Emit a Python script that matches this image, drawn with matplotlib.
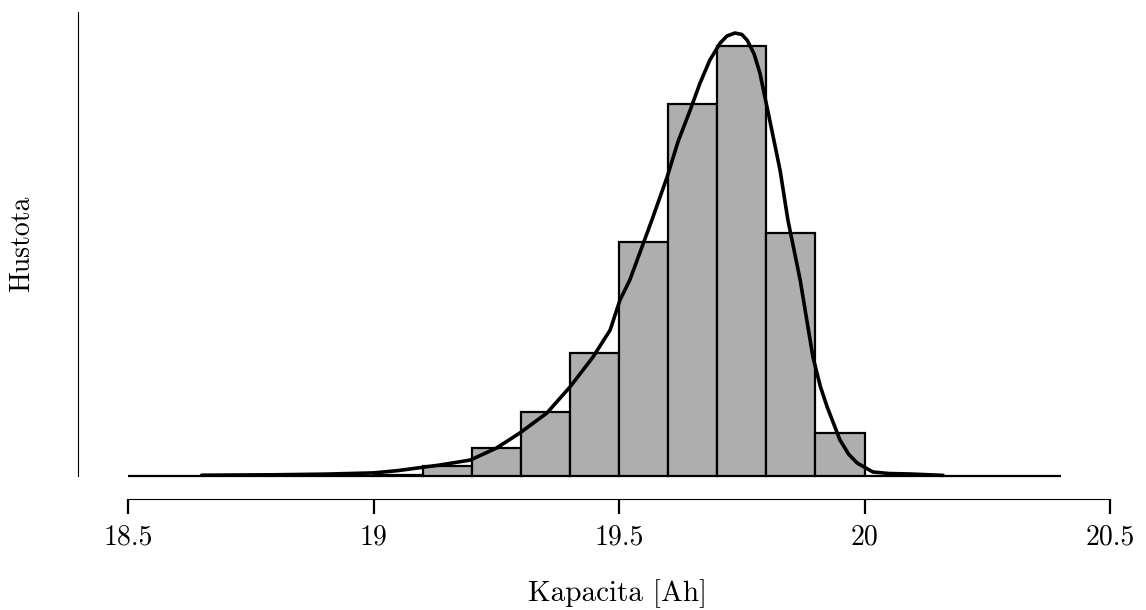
import numpy as np
from matplotlib import pyplot as plt

# Histogram of capacities (density), bins of 0.1 Ah from 18.5 to 20.4
bin_edges = [18.5, 18.6, 18.7, 18.8, 18.9, 19.0, 19.1, 19.2, 19.3, 19.4,
             19.5, 19.6, 19.7, 19.8, 19.9, 20.0, 20.1, 20.2, 20.3, 20.4]
densities = [0, 0, 0, 0, 0, 0.005, 0.065, 0.181, 0.414, 0.795,
             1.513, 2.405, 2.780, 1.571, 0.278, 0, 0, 0, 0]

# Kernel density estimate
kde_x = [18.65, 18.8, 18.9, 19.0, 19.05, 19.135, 19.197, 19.25, 19.298,
         19.353, 19.400, 19.447, 19.482, 19.502, 19.522, 19.567, 19.598,
         19.62, 19.645, 19.665, 19.685, 19.706, 19.72, 19.736, 19.75,
         19.761, 19.775, 19.787, 19.807, 19.828, 19.844, 19.869, 19.895,
         19.91, 19.924, 19.950, 19.968, 19.985, 20.017, 20.05, 20.093,
         20.16]
kde_y = [0.005, 0.008, 0.012, 0.02, 0.035, 0.071, 0.103, 0.18, 0.278,
         0.407, 0.575, 0.769, 0.944, 1.138, 1.267, 1.655, 1.933,
         2.16, 2.366, 2.54, 2.689, 2.799, 2.845, 2.864, 2.855,
         2.818, 2.73, 2.605, 2.301, 1.978, 1.655, 1.267, 0.769,
         0.58, 0.446, 0.233, 0.14, 0.084, 0.026, 0.016, 0.013,
         0.004]

x_ticks = [18.5, 19, 19.5, 20, 20.5]
x_ticklabels = ['18.5', '19', '19.5', '20', '20.5']

plt.rcParams['font.family'] = ['cmr10', 'DejaVu Serif']
plt.rcParams['axes.formatter.use_mathtext'] = True

fig = plt.figure(figsize=(11.46, 6.10), dpi=100)
ax = fig.add_axes([78 / 1146, 134 / 610, 1032 / 1146, 464 / 610])

widths = np.diff(bin_edges)
ax.bar(bin_edges[:-1], densities, width=widths, align='edge',
       color='#aeaeae', edgecolor='black', linewidth=1.6, clip_on=False)
ax.plot(kde_x, kde_y, color='black', linewidth=2.6, clip_on=False,
        solid_joinstyle='round', solid_capstyle='round')

ax.set_xlim(18.5 - 50 / 491, 20.5)
ax.set_ylim(0, 3.0)

# R-like axes: detached x axis, bare y line
ax.spines['top'].set_visible(False)
ax.spines['right'].set_visible(False)
ax.spines['bottom'].set_position(('outward', 16.5))
ax.spines['bottom'].set_bounds(18.5, 20.5)
ax.spines['bottom'].set_linewidth(0.8)
ax.spines['left'].set_linewidth(0.8)

ax.set_xticks(x_ticks)
ax.set_xticklabels(x_ticklabels)
ax.tick_params(axis='x', direction='out', length=10.5, width=1.6,
               pad=8, labelsize=20)
ax.set_yticks([])

ax.set_xlabel('Kapacita [Ah]', fontsize=21)
ax.xaxis.set_label_coords(0.523, -0.222)
ax.set_ylabel('Hustota', fontsize=20)
ax.yaxis.set_label_coords(-0.054, 0.5)
ax.yaxis.label.set_va('center')
ax.xaxis.label.set_va('top')

fig.savefig('out.png', dpi=100)
